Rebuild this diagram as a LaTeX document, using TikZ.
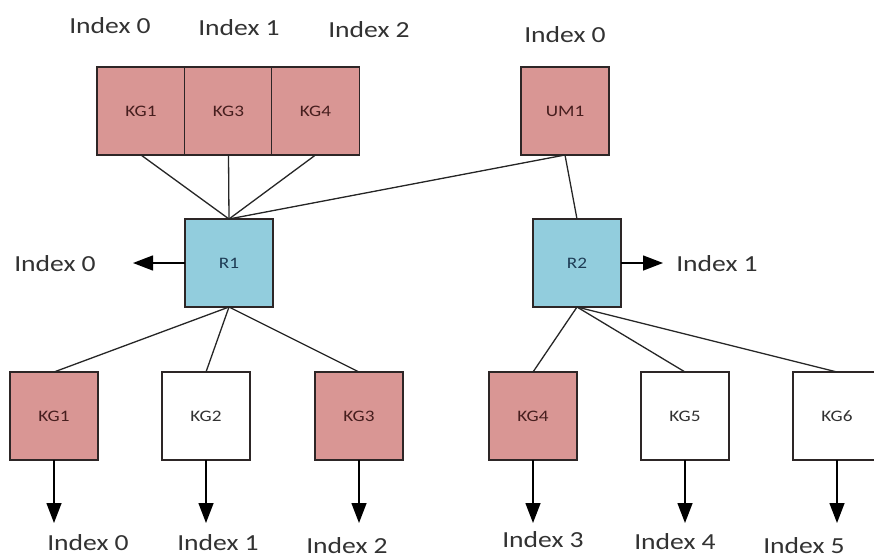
\documentclass[tikz,border=0pt]{standalone}
\usepackage{fontspec}
\setmainfont{Carlito}[FakeStretch=1.2]
\usetikzlibrary{arrows.meta}
\definecolor{pinkfill}{RGB}{217,150,148}
\definecolor{bluefill}{RGB}{146,205,221}
\definecolor{edgecol}{RGB}{45,38,38}
\definecolor{labcol}{RGB}{50,50,50}
\definecolor{boxtxt}{RGB}{70,30,30}
\definecolor{rtxt}{RGB}{30,60,85}
\begin{document}
\begin{tikzpicture}[x=1pt,y=-1pt,
 box/.style={draw=edgecol, line width=1.6pt, minimum width=88pt, minimum height=88pt, inner sep=0pt, outer sep=0pt, font=\fontsize{16}{18}\selectfont},
 kgred/.style={box, fill=pinkfill, text=boxtxt},
 kgwhite/.style={box, fill=white, text=labcol},
 router/.style={box, fill=bluefill, text=rtxt},
 idx/.style={font=\fontsize{23}{26}\selectfont, text=labcol, inner sep=0pt},
 link/.style={line width=1.3pt, draw=black!85},
 arr/.style={line width=1.4pt, draw=black, -{Triangle[length=20pt,width=15pt]}},
]
\useasboundingbox (0,0) rectangle (874,559);
\fill[white] (0,0) rectangle (874,559);

% top row
\node[kgred] (t1) at (141,111) {KG1};
\node[kgred] (t3) at (228.5,111) {KG3};
\node[kgred] (t4) at (315.5,111) {KG4};
\node[kgred] (um) at (565,111) {UM1};

% routers
\node[router] (r1) at (229,263) {R1};
\node[router] (r2) at (577,263) {R2};

% bottom row
\node[kgred]   (b1) at (54,416) {KG1};
\node[kgwhite] (b2) at (206,416) {KG2};
\node[kgred]   (b3) at (359,416) {KG3};
\node[kgred]   (b4) at (533,416) {KG4};
\node[kgwhite] (b5) at (685,416) {KG5};
\node[kgwhite] (b6) at (837,416) {KG6};

% links top
\draw[link] (t1.south) -- (r1.north);
\draw[link] (t3.south) -- (r1.north);
\draw[link] (t4.south) -- (r1.north);
\draw[link] (um.south) -- (r1.north);
\draw[link] (um.south) -- (r2.north);

% links bottom
\draw[link] (r1.south) -- (b1.north);
\draw[link] (r1.south) -- (b2.north);
\draw[link] (r1.south) -- (b3.north);
\draw[link] (r2.south) -- (b4.north);
\draw[link] (r2.south) -- (b5.north);
\draw[link] (r2.south) -- (b6.north);

% labels top
\node[idx] (lt1) at (110,26) {Index 0};
\node[idx] (lt3) at (239,28) {Index 1};
\node[idx] (lt4) at (369,30) {Index 2};
\node[idx] (lum) at (565,35) {Index 0};

% router arrows
\coordinate (a1) at (133,263);
\coordinate (a2) at (663,263);
\draw[arr] (r1.west) -- (a1);
\draw[arr] (r2.east) -- (a2);
\node[idx] (lr1) at (55,264) {Index 0};
\node[idx] (lr2) at (717,264) {Index 1};

% bottom arrows
\coordinate (e1) at (54,523);
\coordinate (e2) at (206,523);
\coordinate (e3) at (359,523);
\coordinate (e4) at (533,523);
\coordinate (e5) at (685,523);
\coordinate (e6) at (837,523);
\draw[arr] (b1.south) -- (e1);
\draw[arr] (b2.south) -- (e2);
\draw[arr] (b3.south) -- (e3);
\draw[arr] (b4.south) -- (e4);
\draw[arr] (b5.south) -- (e5);
\draw[arr] (b6.south) -- (e6);

\node[idx] (lb1) at (88,543) {Index 0};
\node[idx] (lb2) at (218,543) {Index 1};
\node[idx] (lb3) at (347,546) {Index 2};
\node[idx] (lb4) at (543,540) {Index 3};
\node[idx] (lb5) at (675,542) {Index 4};
\node[idx] (lb6) at (804,546) {Index 5};
\end{tikzpicture}
\end{document}
